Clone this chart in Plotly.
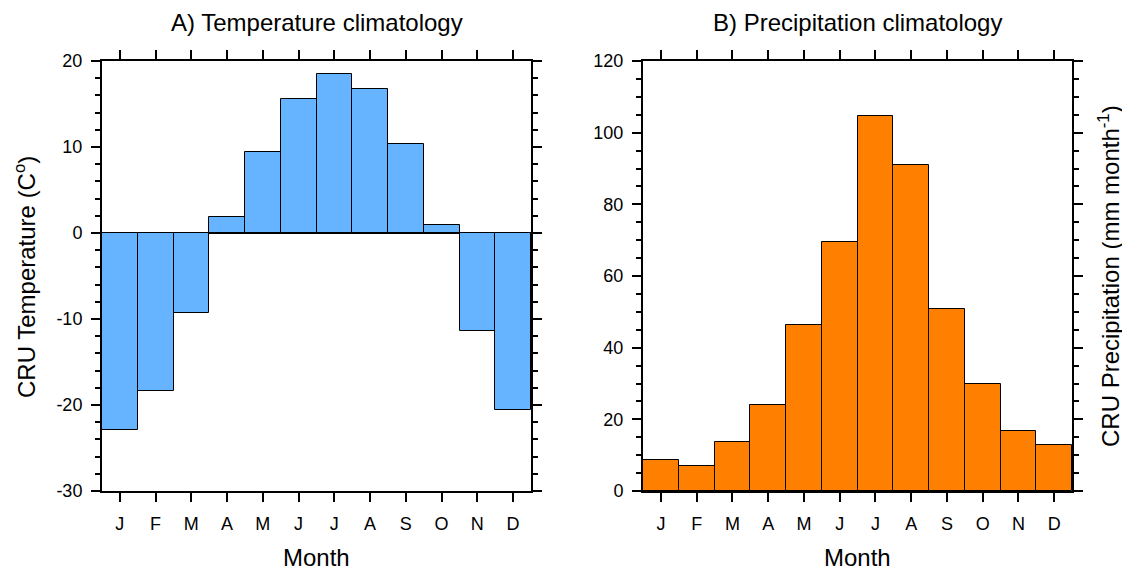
import plotly.graph_objects as go

months = ["J", "F", "M", "A", "M", "J", "J", "A", "S", "O", "N", "D"]
month_idx = list(range(1, 13))
temperature = [-22.9, -18.4, -9.3, 1.9, 9.4, 15.6, 18.5, 16.7, 10.3, 0.9, -11.4, -20.6]
precipitation = [8.6, 7.0, 13.6, 24.0, 46.3, 69.5, 104.6, 91.0, 50.8, 29.9, 16.7, 12.8]
temp_ticks = [-30, -20, -10, 0, 10, 20]
temp_ticktext = ["-30", "-20", "-10", "0", "10", "20"]
prec_ticks = [0, 20, 40, 60, 80, 100, 120]

FONT = "Liberation Sans, Arial, Helvetica, sans-serif"
OFF = 8  # default page margin of the html body
W, H = 1130 - OFF, 577 - OFF


def px(x):
    return (x - OFF) / W


def py(y):
    return 1 - (y - OFF) / H


fig = go.Figure()
fig.add_trace(go.Bar(x=month_idx, y=temperature, width=1.0,
                     marker=dict(color="#66b3ff", line=dict(color="black", width=1)),
                     xaxis="x", yaxis="y", showlegend=False))
fig.add_trace(go.Bar(x=month_idx, y=precipitation, width=1.0,
                     marker=dict(color="#ff8000", line=dict(color="black", width=1)),
                     xaxis="x2", yaxis="y2", showlegend=False))

common_x = dict(
    tickmode="array", tickvals=month_idx, ticktext=months, range=[0.5, 12.5],
    ticks="outside", ticklen=9, tickwidth=2, tickcolor="black",
    showline=True, linewidth=2, linecolor="black", mirror="allticks",
    showgrid=False, zeroline=False, ticklabelstandoff=6, automargin=False,
    tickfont=dict(size=18, family=FONT, color="black"),
)
common_y = dict(
    ticks="outside", ticklen=9, tickwidth=2, tickcolor="black",
    showline=True, linewidth=2, linecolor="black", mirror="allticks",
    showgrid=False, ticklabelstandoff=5, automargin=False,
    tickfont=dict(size=18, family=FONT, color="black"),
)

x1 = [px(102), px(531)]
x2 = [px(643), px(1072)]
yd = [py(491), py(61)]
title_font = dict(size=24, family=FONT, color="black")

fig.update_layout(
    width=W, height=H,
    margin=dict(l=0, r=0, t=0, b=0),
    plot_bgcolor="white", paper_bgcolor="white",
    bargap=0,
    font=dict(family=FONT, color="black"),
    xaxis=dict(domain=x1, anchor="y", **common_x),
    yaxis=dict(domain=yd, anchor="x", range=[-30, 20],
               tickmode="array", tickvals=temp_ticks, ticktext=temp_ticktext,
               zeroline=True, zerolinecolor="black", zerolinewidth=2,
               minor=dict(dtick=2, ticks="outside", ticklen=5, tickwidth=1.5, tickcolor="black"),
               **common_y),
    xaxis2=dict(domain=x2, anchor="y2", **common_x),
    yaxis2=dict(domain=yd, anchor="x2", range=[0, 120],
                tickmode="array", tickvals=prec_ticks, zeroline=False,
                minor=dict(dtick=5, ticks="outside", ticklen=5, tickwidth=1.5, tickcolor="black"),
                **common_y),
    annotations=[
        dict(text="A) Temperature climatology", x=sum(x1) / 2, y=py(22),
             xref="paper", yref="paper", showarrow=False, font=title_font,
             xanchor="center", yanchor="middle"),
        dict(text="B) Precipitation climatology", x=sum(x2) / 2, y=py(22),
             xref="paper", yref="paper", showarrow=False, font=title_font,
             xanchor="center", yanchor="middle"),
        dict(text="Month", x=sum(x1) / 2, y=py(557), xref="paper", yref="paper",
             showarrow=False, font=title_font, xanchor="center", yanchor="middle"),
        dict(text="Month", x=sum(x2) / 2, y=py(557), xref="paper", yref="paper",
             showarrow=False, font=title_font, xanchor="center", yanchor="middle"),
        dict(text="CRU Temperature (C<sup>o</sup>)", x=px(25), y=py(277),
             xref="paper", yref="paper", textangle=-90, showarrow=False,
             font=title_font, xanchor="center", yanchor="middle"),
        dict(text="CRU Precipitation (mm month<sup>-1</sup>)", x=px(1109), y=py(276),
             xref="paper", yref="paper", textangle=-90, showarrow=False,
             font=title_font, xanchor="center", yanchor="middle"),
    ],
)

fig.write_html("out.html")
